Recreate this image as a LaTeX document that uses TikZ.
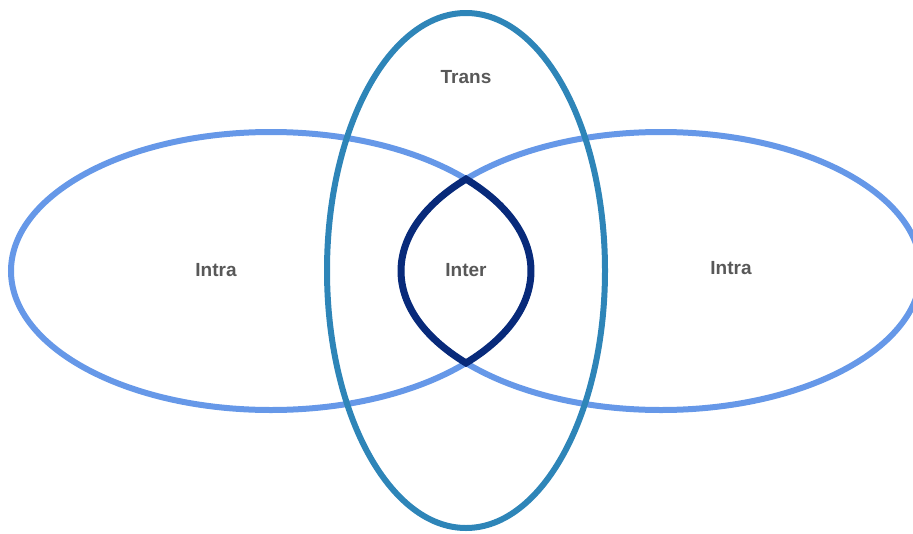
\documentclass[tikz,border=0pt]{standalone}
\usepackage{fontspec}
\setmainfont{Liberation Sans}
\definecolor{intracol}{RGB}{102,152,232}
\definecolor{transcol}{RGB}{46,133,184}
\definecolor{intercol}{RGB}{8,42,122}
\definecolor{labelcol}{RGB}{88,88,88}
\tikzset{
  ring/.style={line width=6pt},
  lbl/.style={text=labelcol, font=\fontsize{19}{22}\selectfont\bfseries, inner sep=0pt},
}
\begin{document}
\begin{tikzpicture}[x=1pt,y=1pt]
\useasboundingbox (0,0) rectangle (913,-533);
\begin{scope}
\clip (0,0) rectangle (913,-533);
\draw[ring, intracol] (271,-271) ellipse [x radius=260, y radius=139];
\draw[ring, intracol] (661,-271) ellipse [x radius=260, y radius=139];
\draw[ring, transcol] (466,-270.5) ellipse [x radius=139, y radius=257.5];
\draw[line width=7pt, intercol, line join=miter]
  (466,-179.1) arc[start angle=138.59, end angle=221.41, x radius=260, y radius=139]
  arc[start angle=-41.41, end angle=41.41, x radius=260, y radius=139] -- cycle;
\end{scope}
\node[lbl] (trans) at (466,-77) {Trans};
\node[lbl] (intraL) at (216,-270) {Intra};
\node[lbl] (inter) at (466,-270) {Inter};
\node[lbl] (intraR) at (731,-268) {Intra};
\end{tikzpicture}
\end{document}
